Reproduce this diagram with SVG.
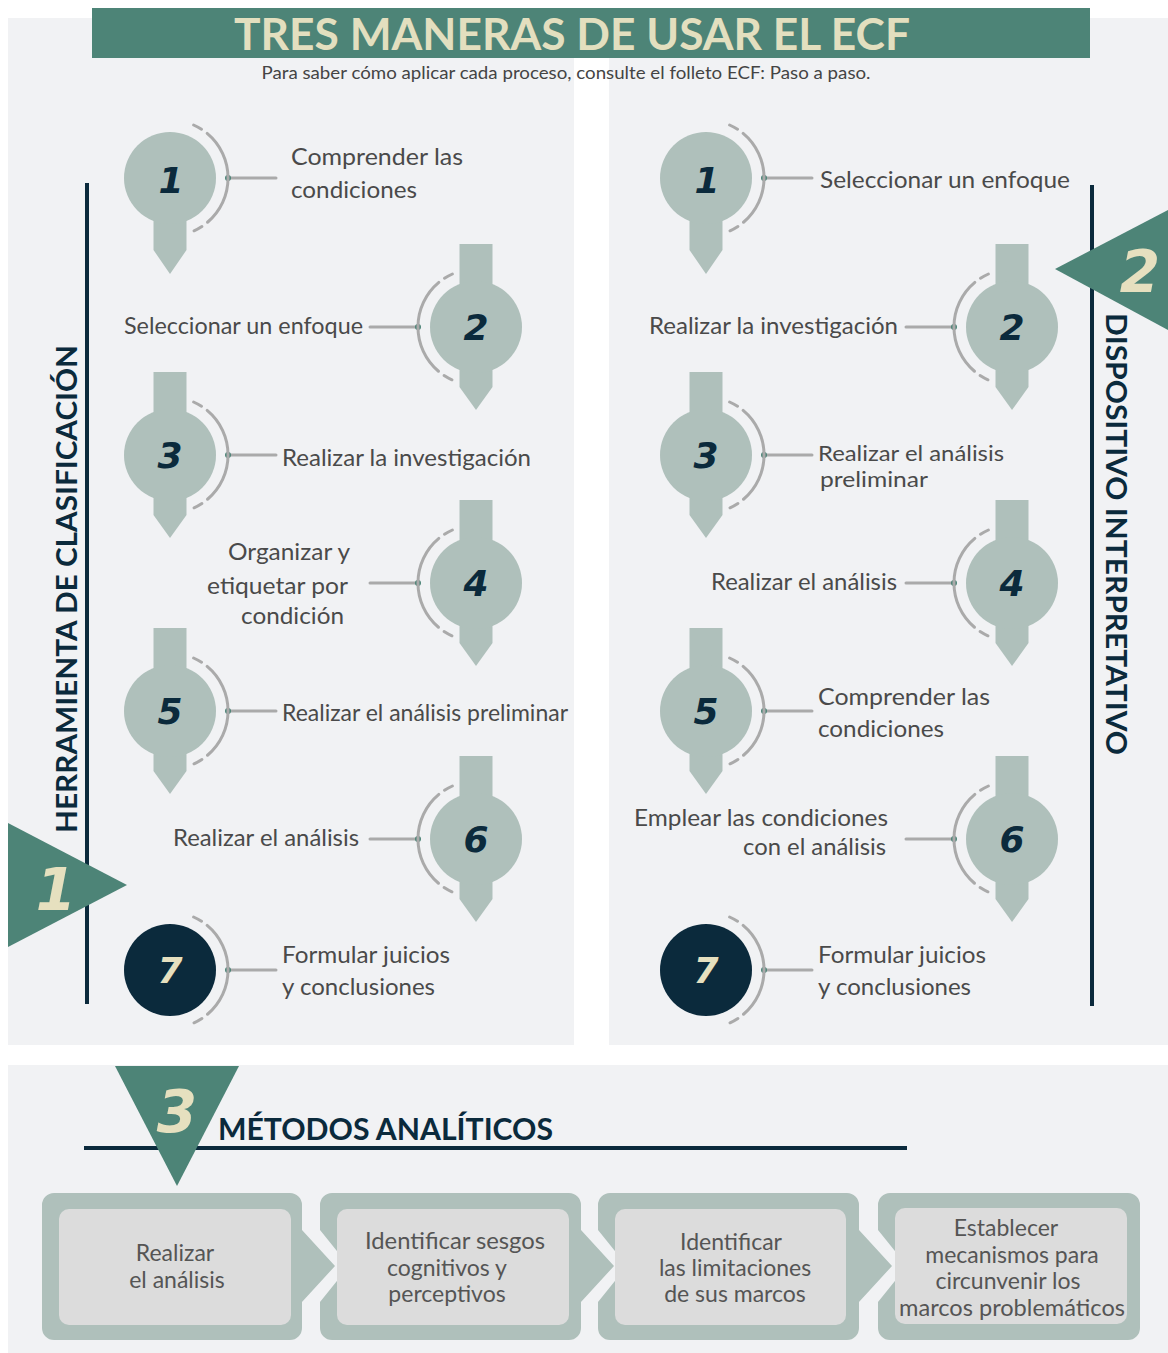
<svg xmlns="http://www.w3.org/2000/svg" xmlns:xlink="http://www.w3.org/1999/xlink" width="1168" height="1353" viewBox="0 0 1168 1353">
<style>
.panel{fill:#f1f2f4}
.pin{fill:#afc0bb}
.dark{fill:#0b2a3c}
.arc{fill:none;stroke:#aaaaaa;stroke-width:3;stroke-dasharray:9 7 101 7 9;stroke-linecap:round}
.conn{stroke:#aaaaaa;stroke-width:3;stroke-linecap:round}
.dot{fill:#4d8477}
.lbl{font-family:Lato,"Open Sans",sans-serif;font-size:24px;fill:#4a4a4a}
.num{font-family:"DejaVu Sans",sans-serif;font-weight:bold;font-style:italic;font-size:36px;fill:#0b2a3c;text-anchor:middle}
.big{font-family:"DejaVu Sans",sans-serif;font-weight:bold;font-style:italic;font-size:58px;fill:#e6e0bf;text-anchor:middle}
.head{font-family:Lato,"Open Sans",sans-serif;font-weight:bold;fill:#0b2a3c}
.tri{fill:#4d8477}
.outer{fill:#afc0bb}
.inner{fill:#dcdcdc}
.box{font-family:Lato,"Open Sans",sans-serif;font-size:23px;fill:#555555;text-anchor:middle}
</style>
<defs>
<path id="arcR" class="arc" d="M 23.6 -53 A 58 58 0 0 1 23.6 53"/>
<path id="arcL" class="arc" d="M -23.6 -53 A 58 58 0 0 0 -23.6 53"/>
<g id="pinFirst"><path class="pin" d="M -16.5 0 H 16.5 V 72 L 0 96 L -16.5 72 Z"/><circle class="pin" r="46"/></g>
<g id="pinMid"><path class="pin" d="M -16.5 -83 H 16.5 V 60 L 0 83 L -16.5 60 Z"/><circle class="pin" r="46"/></g>
</defs>

<rect width="1168" height="1353" fill="#ffffff"/>
<rect class="panel" x="8" y="18" width="566" height="1027"/>
<rect class="panel" x="609" y="18" width="559" height="1027"/>
<rect class="panel" x="8" y="1065" width="1160" height="288"/>

<g id="title">
<rect x="92" y="8" width="998" height="50" fill="#4d8477"/>
<text x="572" y="50" text-anchor="middle" font-family="Lato,'Open Sans',sans-serif" font-weight="bold" font-size="43" fill="#e3dfbf" textLength="676" lengthAdjust="spacingAndGlyphs">TRES MANERAS DE USAR EL ECF</text>
<text x="566" y="79" text-anchor="middle" font-family="Lato,'Open Sans',sans-serif" font-size="17" fill="#444444" textLength="609" lengthAdjust="spacingAndGlyphs">Para saber cómo aplicar cada proceso, consulte el folleto ECF: Paso a paso.</text>
</g>

<g id="section1">
<rect class="dark" x="85" y="183" width="4" height="821"/>
<text class="head" font-size="28" text-anchor="middle" transform="translate(77,589) rotate(-90)" textLength="488" lengthAdjust="spacingAndGlyphs">HERRAMIENTA DE CLASIFICACIÓN</text>
<polygon class="tri" points="8,823 127,885 8,947"/>
<text class="big" x="56" y="910">1</text>
</g>

<g id="section2">
<rect class="dark" x="1090" y="185" width="4" height="821"/>
<text class="head" font-size="28" text-anchor="middle" transform="translate(1106,534) rotate(90)" textLength="442" lengthAdjust="spacingAndGlyphs">DISPOSITIVO INTERPRETATIVO</text>
<polygon class="tri" points="1168,210 1055,269 1168,330"/>
<text class="big" x="1140" y="292">2</text>
</g>

<g id="connectors">
<line class="conn" x1="228" y1="178" x2="276" y2="178"/><circle class="dot" cx="228" cy="178" r="3"/>
<line class="conn" x1="370" y1="327" x2="418" y2="327"/><circle class="dot" cx="418" cy="327" r="3"/>
<line class="conn" x1="228" y1="455" x2="276" y2="455"/><circle class="dot" cx="228" cy="455" r="3"/>
<line class="conn" x1="370" y1="583" x2="418" y2="583"/><circle class="dot" cx="418" cy="583" r="3"/>
<line class="conn" x1="228" y1="711" x2="276" y2="711"/><circle class="dot" cx="228" cy="711" r="3"/>
<line class="conn" x1="370" y1="839" x2="418" y2="839"/><circle class="dot" cx="418" cy="839" r="3"/>
<line class="conn" x1="228" y1="970" x2="276" y2="970"/><circle class="dot" cx="228" cy="970" r="3"/>
<line class="conn" x1="764" y1="178" x2="812" y2="178"/><circle class="dot" cx="764" cy="178" r="3"/>
<line class="conn" x1="906" y1="327" x2="954" y2="327"/><circle class="dot" cx="954" cy="327" r="3"/>
<line class="conn" x1="764" y1="455" x2="812" y2="455"/><circle class="dot" cx="764" cy="455" r="3"/>
<line class="conn" x1="906" y1="583" x2="954" y2="583"/><circle class="dot" cx="954" cy="583" r="3"/>
<line class="conn" x1="764" y1="711" x2="812" y2="711"/><circle class="dot" cx="764" cy="711" r="3"/>
<line class="conn" x1="906" y1="839" x2="954" y2="839"/><circle class="dot" cx="954" cy="839" r="3"/>
<line class="conn" x1="764" y1="970" x2="812" y2="970"/><circle class="dot" cx="764" cy="970" r="3"/>
</g>

<g id="L1"><use xlink:href="#pinFirst" transform="translate(170,178)"/><use xlink:href="#arcR" transform="translate(170,178)"/><text class="num" x="171" y="193">1</text><text class="lbl" x="291" y="165" textLength="172" lengthAdjust="spacingAndGlyphs">Comprender las</text><text class="lbl" x="291" y="198" textLength="126" lengthAdjust="spacingAndGlyphs">condiciones</text></g>
<g id="L2"><use xlink:href="#pinMid" transform="translate(476,327)"/><use xlink:href="#arcL" transform="translate(476,327)"/><text class="num" x="476" y="340">2</text><text class="lbl" x="363" y="334" text-anchor="end" textLength="239" lengthAdjust="spacingAndGlyphs">Seleccionar un enfoque</text></g>
<g id="L3"><use xlink:href="#pinMid" transform="translate(170,455)"/><use xlink:href="#arcR" transform="translate(170,455)"/><text class="num" x="170" y="468">3</text><text class="lbl" x="282" y="466" textLength="249" lengthAdjust="spacingAndGlyphs">Realizar la investigación</text></g>
<g id="L4"><use xlink:href="#pinMid" transform="translate(476,583)"/><use xlink:href="#arcL" transform="translate(476,583)"/><text class="num" x="476" y="596">4</text><text class="lbl" x="350" y="560" text-anchor="end" textLength="122" lengthAdjust="spacingAndGlyphs">Organizar y</text><text class="lbl" x="348" y="594" text-anchor="end" textLength="141" lengthAdjust="spacingAndGlyphs">etiquetar por</text><text class="lbl" x="344" y="624" text-anchor="end" textLength="103" lengthAdjust="spacingAndGlyphs">condición</text></g>
<g id="L5"><use xlink:href="#pinMid" transform="translate(170,711)"/><use xlink:href="#arcR" transform="translate(170,711)"/><text class="num" x="170" y="724">5</text><text class="lbl" x="282" y="721" textLength="286" lengthAdjust="spacingAndGlyphs">Realizar el análisis preliminar</text></g>
<g id="L6"><use xlink:href="#pinMid" transform="translate(476,839)"/><use xlink:href="#arcL" transform="translate(476,839)"/><text class="num" x="476" y="852">6</text><text class="lbl" x="359" y="846" text-anchor="end" textLength="186" lengthAdjust="spacingAndGlyphs">Realizar el análisis</text></g>
<g id="L7"><circle class="dark" cx="170" cy="970" r="46"/><use xlink:href="#arcR" transform="translate(170,970)"/><text class="num" x="170" y="983" style="fill:#e6e0bf">7</text><text class="lbl" x="282" y="963" textLength="168" lengthAdjust="spacingAndGlyphs">Formular juicios</text><text class="lbl" x="282" y="995" textLength="153" lengthAdjust="spacingAndGlyphs">y conclusiones</text></g>

<g id="R1"><use xlink:href="#pinFirst" transform="translate(706,178)"/><use xlink:href="#arcR" transform="translate(706,178)"/><text class="num" x="707" y="193">1</text><text class="lbl" x="820" y="188" textLength="250" lengthAdjust="spacingAndGlyphs">Seleccionar un enfoque</text></g>
<g id="R2"><use xlink:href="#pinMid" transform="translate(1012,327)"/><use xlink:href="#arcL" transform="translate(1012,327)"/><text class="num" x="1012" y="340">2</text><text class="lbl" x="898" y="334" text-anchor="end" textLength="249" lengthAdjust="spacingAndGlyphs">Realizar la investigación</text></g>
<g id="R3"><use xlink:href="#pinMid" transform="translate(706,455)"/><use xlink:href="#arcR" transform="translate(706,455)"/><text class="num" x="706" y="468">3</text><text class="lbl" x="818" y="461" font-size="22" style="font-size:22px" textLength="186" lengthAdjust="spacingAndGlyphs">Realizar el análisis</text><text class="lbl" x="820" y="487" style="font-size:22px" textLength="108" lengthAdjust="spacingAndGlyphs">preliminar</text></g>
<g id="R4"><use xlink:href="#pinMid" transform="translate(1012,583)"/><use xlink:href="#arcL" transform="translate(1012,583)"/><text class="num" x="1012" y="596">4</text><text class="lbl" x="897" y="590" text-anchor="end" textLength="186" lengthAdjust="spacingAndGlyphs">Realizar el análisis</text></g>
<g id="R5"><use xlink:href="#pinMid" transform="translate(706,711)"/><use xlink:href="#arcR" transform="translate(706,711)"/><text class="num" x="706" y="724">5</text><text class="lbl" x="818" y="705" textLength="172" lengthAdjust="spacingAndGlyphs">Comprender las</text><text class="lbl" x="818" y="737" textLength="126" lengthAdjust="spacingAndGlyphs">condiciones</text></g>
<g id="R6"><use xlink:href="#pinMid" transform="translate(1012,839)"/><use xlink:href="#arcL" transform="translate(1012,839)"/><text class="num" x="1012" y="852">6</text><text class="lbl" x="888" y="826" text-anchor="end" textLength="254" lengthAdjust="spacingAndGlyphs">Emplear las condiciones</text><text class="lbl" x="886" y="855" text-anchor="end" textLength="143" lengthAdjust="spacingAndGlyphs">con el análisis</text></g>
<g id="R7"><circle class="dark" cx="706" cy="970" r="46"/><use xlink:href="#arcR" transform="translate(706,970)"/><text class="num" x="706" y="983" style="fill:#e6e0bf">7</text><text class="lbl" x="818" y="963" textLength="168" lengthAdjust="spacingAndGlyphs">Formular juicios</text><text class="lbl" x="818" y="995" textLength="153" lengthAdjust="spacingAndGlyphs">y conclusiones</text></g>

<g id="section3">
<rect class="dark" x="84" y="1146" width="823" height="4"/>
<polygon class="tri" points="115,1066 239,1066 177,1186"/>
<text class="big" x="177" y="1132">3</text>
<text class="head" x="218" y="1140" font-size="30" textLength="335" lengthAdjust="spacingAndGlyphs">MÉTODOS ANALÍTICOS</text>
</g>

<g id="B1">
<path class="outer" d="M 54 1193 H 290 A 12 12 0 0 1 302 1205 V 1230 L 335 1266 L 302 1302 V 1328 A 12 12 0 0 1 290 1340 H 54 A 12 12 0 0 1 42 1328 V 1205 A 12 12 0 0 1 54 1193 Z"/>
<rect class="inner" x="59" y="1209" width="232" height="116" rx="10"/>
<text class="box" x="175" y="1261">Realizar</text><text class="box" x="177" y="1288">el análisis</text>
</g>
<g id="B2">
<path class="outer" d="M 332 1193 H 569 A 12 12 0 0 1 581 1205 V 1230 L 614 1266 L 581 1302 V 1328 A 12 12 0 0 1 569 1340 H 332 A 12 12 0 0 1 320 1328 V 1302 L 349 1266 L 320 1230 V 1205 A 12 12 0 0 1 332 1193 Z"/>
<rect class="inner" x="337" y="1209" width="232" height="116" rx="10"/>
<text class="box" x="455" y="1249" textLength="180" lengthAdjust="spacingAndGlyphs">Identificar sesgos</text><text class="box" x="447" y="1276">cognitivos y</text><text class="box" x="447" y="1302">perceptivos</text>
</g>
<g id="B3">
<path class="outer" d="M 610 1193 H 847 A 12 12 0 0 1 859 1205 V 1230 L 892 1266 L 859 1302 V 1328 A 12 12 0 0 1 847 1340 H 610 A 12 12 0 0 1 598 1328 V 1302 L 627 1266 L 598 1230 V 1205 A 12 12 0 0 1 610 1193 Z"/>
<rect class="inner" x="615" y="1209" width="231" height="116" rx="10"/>
<text class="box" x="731" y="1250">Identificar</text><text class="box" x="735" y="1276">las limitaciones</text><text class="box" x="735" y="1302">de sus marcos</text>
</g>
<g id="B4">
<path class="outer" d="M 890 1193 H 1128 A 12 12 0 0 1 1140 1205 V 1328 A 12 12 0 0 1 1128 1340 H 890 A 12 12 0 0 1 878 1328 V 1302 L 907 1266 L 878 1230 V 1205 A 12 12 0 0 1 890 1193 Z"/>
<rect class="inner" x="895" y="1208" width="232" height="116" rx="10"/>
<text class="box" x="1006" y="1236">Establecer</text><text class="box" x="1012" y="1263">mecanismos para</text><text class="box" x="1008" y="1289">circunvenir los</text><text class="box" x="1012" y="1316" textLength="226" lengthAdjust="spacingAndGlyphs">marcos problemáticos</text>
</g>
</svg>
